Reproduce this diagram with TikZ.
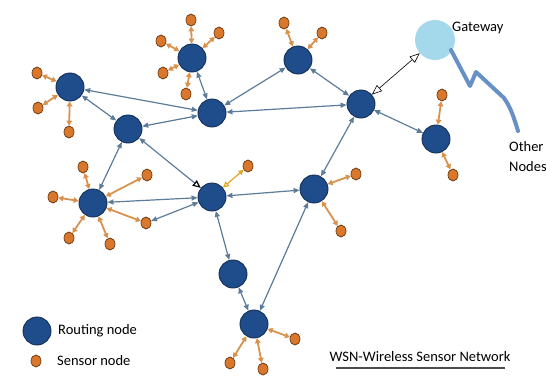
\documentclass[tikz,border=0pt]{standalone}
\usepackage{fontspec}
\setmainfont{Carlito}
\usetikzlibrary{arrows.meta,shapes.geometric}
\definecolor{rfill}{HTML}{1F4C8A}
\definecolor{rdraw}{HTML}{142F55}
\definecolor{sfill}{HTML}{D9772C}
\definecolor{sdraw}{HTML}{6E3A12}
\definecolor{blink}{HTML}{5C7C9A}
\definecolor{olink}{HTML}{D8924E}
\definecolor{ylink}{HTML}{E2A81E}
\definecolor{gwfill}{HTML}{A3D9EA}
\definecolor{wire}{HTML}{6790C6}
\tikzset{
  rnode/.style={circle,fill=rfill,draw=rdraw,line width=0.9pt,minimum size=28pt,inner sep=0pt},
  snode/.style={ellipse,fill=sfill,draw=sdraw,line width=0.7pt,minimum width=10pt,minimum height=12pt,inner sep=0pt},
  rlink/.style={draw=blink,line width=1.2pt,{Triangle[length=6pt,width=5pt]}-{Triangle[length=6pt,width=5pt]}},
  slink/.style={draw=olink,line width=1.8pt,{Triangle[length=5pt,width=5.5pt]}-{Triangle[length=5pt,width=5.5pt]}},
  lbl/.style={font=\fontsize{14.5}{16}\selectfont,inner sep=0pt,anchor=west}
}
\begin{document}
\begin{tikzpicture}[x=1pt,y=-1pt]
\useasboundingbox (0,0) rectangle (546,375);
% routing nodes
\node[rnode] (R1) at (70,87) {};
\node[rnode] (R2) at (192,58) {};
\node[rnode] (R3) at (212,113) {};
\node[rnode] (R4) at (128,129) {};
\node[rnode] (R5) at (298,60) {};
\node[rnode] (R6) at (361,104) {};
\node[rnode] (R7) at (436,139) {};
\node[rnode] (R8) at (212,197) {};
\node[rnode] (R9) at (93,203) {};
\node[rnode] (R10) at (314,189) {};
\node[rnode] (R11) at (233,274) {};
\node[rnode] (R12) at (254,324) {};
\node[circle,fill=gwfill,minimum size=40pt,inner sep=0pt] (GW) at (435,40) {};
% sensor nodes
\node[snode] (a1) at (37,73) {};
\node[snode] (a2) at (38,108) {};
\node[snode] (a3) at (69,132) {};
\node[snode] (b1) at (191,20) {};
\node[snode] (b2) at (219,33) {};
\node[snode] (b3) at (161,41) {};
\node[snode] (b4) at (163,73) {};
\node[snode] (b5) at (186,94) {};
\node[snode] (c1) at (284,23) {};
\node[snode] (c2) at (322,33) {};
\node[snode] (d1) at (442,95) {};
\node[snode] (d2) at (453,175) {};
\node[snode] (e1) at (248,166) {};
\node[snode] (f1) at (356,174) {};
\node[snode] (f2) at (341,231) {};
\node[snode] (g1) at (83,167) {};
\node[snode] (g2) at (147,175) {};
\node[snode] (g3) at (53,197) {};
\node[snode] (g4) at (146,223) {};
\node[snode] (g5) at (69,238) {};
\node[snode] (g6) at (110,244) {};
\node[snode] (h1) at (295,339) {};
\node[snode] (h2) at (230,363) {};
\node[snode] (h3) at (263,369) {};
% routing links
\draw[rlink] (R1) -- (R3);
\draw[rlink] (R1) -- (R4);
\draw[rlink] (R2) -- (R3);
\draw[rlink] (R4) -- (R3);
\draw[rlink] (R5) -- (R3);
\draw[rlink] (R6) -- (R3);
\draw[rlink] (R5) -- (R6);
\draw[rlink] (R6) -- (R7);
\draw[rlink] (R6) -- (R10);
\draw[rlink] (R9) -- (R4);
\draw[rlink] (R9) -- (R8);
\draw[rlink] (R10) -- (R8);
\draw[rlink] (g4) -- (R8);
\draw[rlink] (R8) -- (R11);
\draw[rlink] (R11) -- (R12);
\draw[rlink] (R10) -- (R12);
\draw[draw=blink,line width=1.2pt,{Triangle[length=6pt,width=5pt]}-{Triangle[open,length=8pt,width=7pt,color=black]}] (R4) -- (R8);
\draw[black,line width=0.6pt,{Triangle[open,length=10pt,width=8pt]}-{Triangle[open,length=10pt,width=8pt]}] (R6) -- (GW);
% sensor links
\foreach \s in {a1,a2,a3} \draw[slink] (R1) -- (\s);
\foreach \s in {b1,b2,b3,b4,b5} \draw[slink] (R2) -- (\s);
\foreach \s in {c1,c2} \draw[slink] (R5) -- (\s);
\foreach \s in {d1,d2} \draw[slink] (R7) -- (\s);
\foreach \s in {f1,f2} \draw[slink] (R10) -- (\s);
\foreach \s in {g1,g2,g3,g4,g5,g6} \draw[slink] (R9) -- (\s);
\foreach \s in {h1,h2,h3} \draw[slink] (R12) -- (\s);
\draw[draw=ylink,line width=1.2pt,{Triangle[open,length=6pt,width=6pt]}-{Triangle[length=5pt,width=5pt]}] (R8) -- (e1);
% gateway wire
\coordinate (w1) at (451,50);
\coordinate (w2) at (470,86);
\coordinate (w3) at (476,72);
\coordinate (w4) at (504,98);
\coordinate (w5) at (518,131);
\draw[wire,line width=4pt,line cap=round,line join=round] (w1) -- (w2) -- (w3) -- (w4) .. controls (511,108) and (514,118) .. (w5);
% labels
\node[lbl] (tgw) at (452,28) {Gateway};
\node[lbl] (tother) at (509,147) {Other};
\node[lbl] (tnodes) at (509,167) {Nodes};
% legend
\node[rnode] (LR) at (37,331) {};
\node[snode] (LS) at (36,361) {};
\node[lbl] (tr) at (58,331) {Routing node};
\node[lbl] (ts) at (57,361) {Sensor node};
\node[font=\fontsize{14.5}{16}\selectfont,inner sep=0pt] (wsn) at (420,357) {WSN-Wireless Sensor Network};
\coordinate (u1) at (336,368);
\coordinate (u2) at (505,368);
\draw[black!70,line width=1.3pt] (u1) -- (u2);
\end{tikzpicture}
\end{document}
